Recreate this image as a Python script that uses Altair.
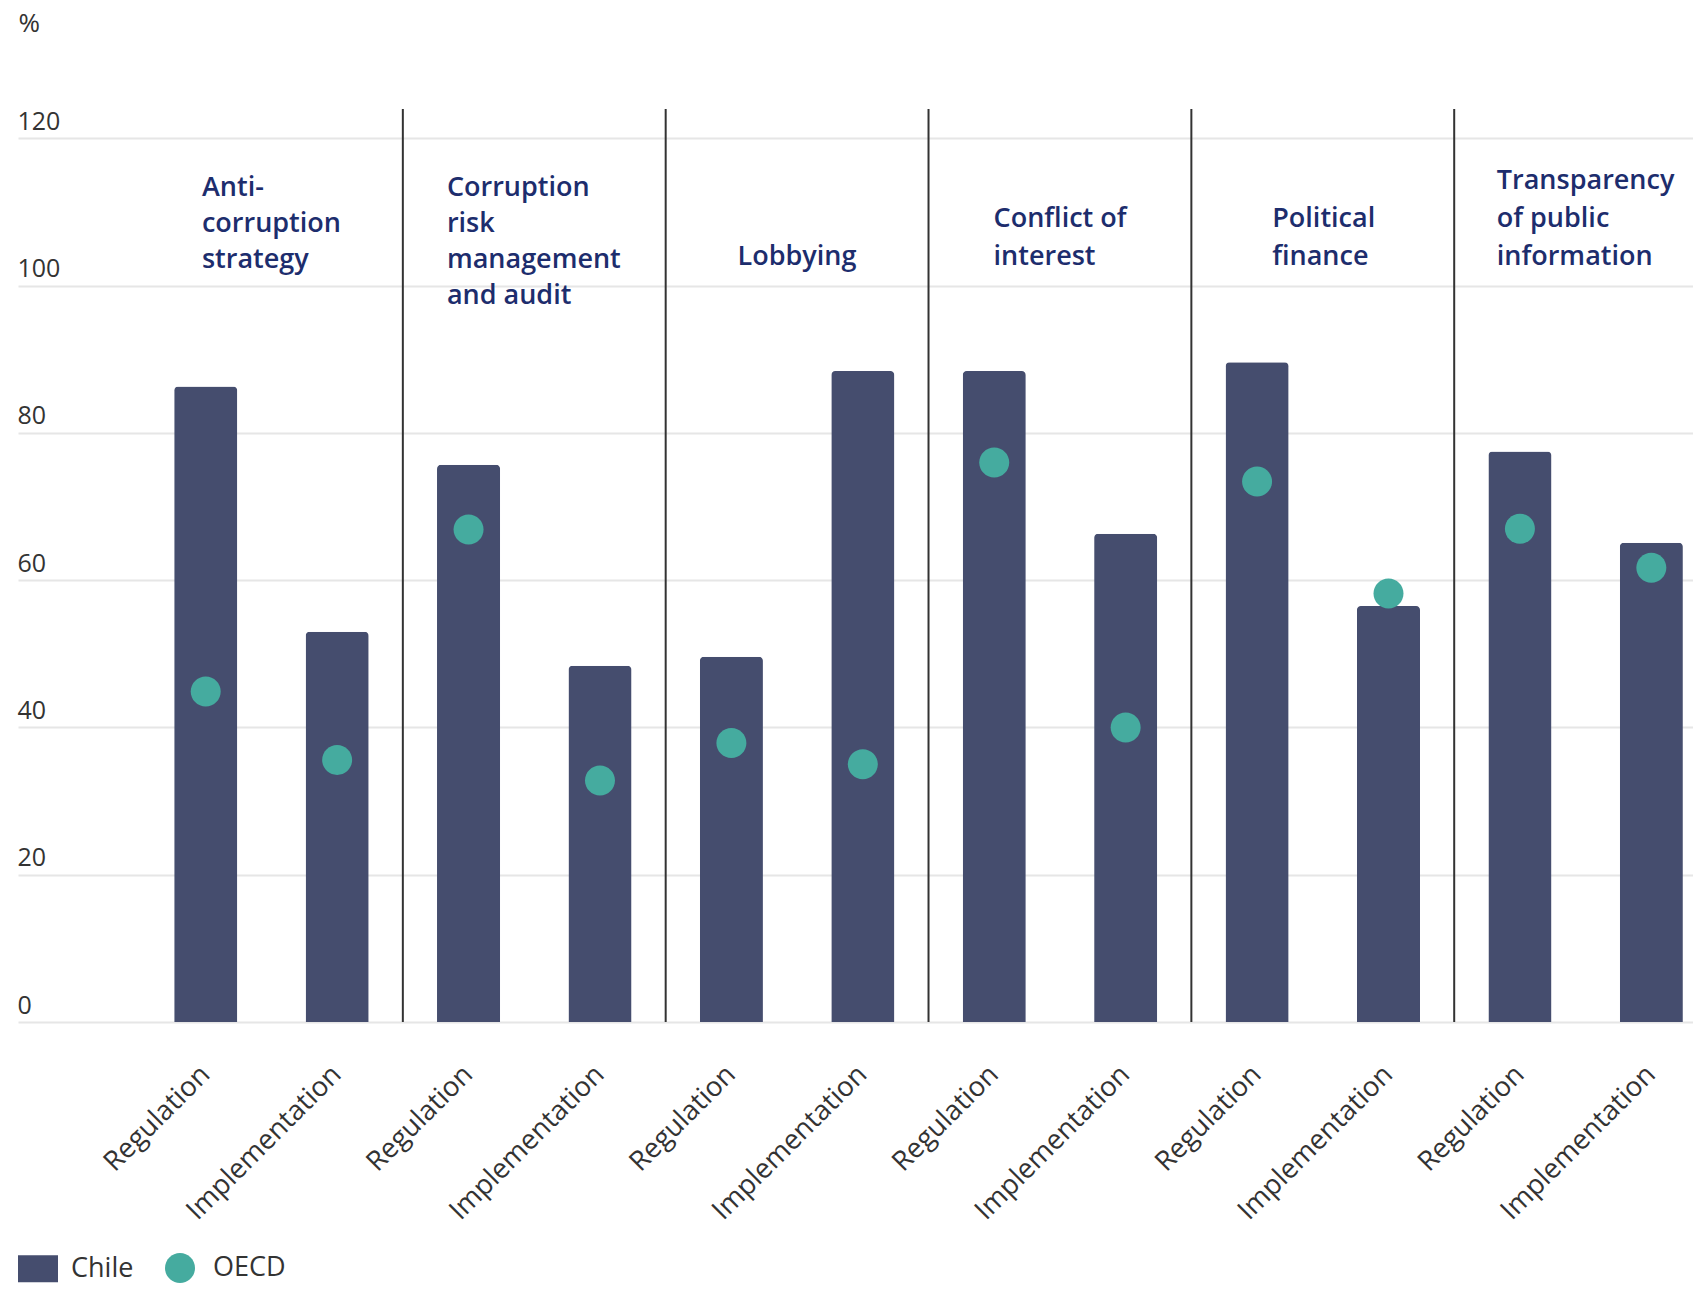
import altair as alt
import pandas as pd

# ---------------- data ----------------
groups = [
    "Anti-corruption strategy",
    "Corruption risk management and audit",
    "Lobbying",
    "Conflict of interest",
    "Political finance",
    "Transparency of public information",
]
title_lines = [
    ["Anti-", "corruption", "strategy"],
    ["Corruption", "risk", "management", "and audit"],
    ["Lobbying"],
    ["Conflict of", "interest"],
    ["Political", "finance"],
    ["Transparency", "of public", "information"],
]
dimensions = ["Regulation", "Implementation"]
chile = [86.3, 53.0, 75.7, 48.4, 49.6, 88.4, 88.4, 66.3, 89.6, 56.5, 77.5, 65.1]
oecd = [44.9, 35.6, 66.9, 32.8, 37.9, 35.0, 76.0, 40.0, 73.4, 58.2, 67.0, 61.7]
y_ticks = [0, 20, 40, 60, 80, 100, 120]
y_title = "%"
series_names = ["Chile", "OECD"]

# ---------------- layout / style ----------------
W, H = 1675, 913
PAD = {"left": 10, "top": 101, "right": 0, "bottom": 262}
YMAX = 124
NB = len(groups) * len(dimensions)
LEFT_OFFSET = 122          # px from plot left edge to the first band step
STEP = 131.42              # px per band step
P_INNER = 0.52
SPAN = LEFT_OFFSET + NB * STEP
P_OUTER = (SPAN / STEP - NB + P_INNER) / 2
ALIGN = (LEFT_OFFSET + P_INNER / 2 * STEP) / (SPAN - STEP * (NB - P_INNER))

BAR = "#454d6e"
DOT = "#45ab9f"
TITLE_C = "#1d2d6d"
TEXT_C = "#333333"
GRID_C = "#e6e6e6"
DIV_C = "#333333"
FONT = "Open Sans"
TITLE_SIZE = 27
# title block placement: "top" blocks start at TOP_BASELINE, "bottom" blocks end at BOTTOM_BASELINE
TITLE_VALIGN = ["top", "top", "bottom", "bottom", "bottom", "bottom"]
TOP_BASELINE, TOP_LH = 196, 36
BOTTOM_BASELINE, BOTTOM_LH = 265, 38

# approximate Open Sans advance widths (em)
CW = {' ': .26, '-': .322, 'a': .556, 'b': .613, 'c': .476, 'd': .613, 'e': .561,
      'f': .339, 'g': .548, 'h': .614, 'i': .253, 'l': .253, 'm': .930, 'n': .614,
      'o': .604, 'p': .613, 'r': .408, 's': .477, 't': .353, 'u': .614, 'y': .501,
      'A': .633, 'C': .631, 'L': .5, 'P': .598, 'T': .543}


def text_w(s, size, bold=1.04):
    return sum(CW.get(ch, .55) for ch in s) * size * bold


plot_top_page = 8 + PAD["top"]


def page_y_to_units(yp):
    return (plot_top_page + H - yp) / H * YMAX


cats = [f"{g}|{d}" for g in groups for d in dimensions]
bars_df = pd.DataFrame({"cat": cats, "value": chile, "series": series_names[0]})
dots_df = pd.DataFrame({"cat": cats, "value": oecd, "series": series_names[1]})
div_df = pd.DataFrame({"pos": [len(dimensions) * i for i in range(1, len(groups))]})

rows = {"top": [], "bottom": []}
for gi, lines in enumerate(title_lines):
    center = len(dimensions) * gi + len(dimensions) / 2
    maxw = max(text_w(l, TITLE_SIZE) for l in lines)
    n = len(lines)
    va = TITLE_VALIGN[gi]
    first_base = TOP_BASELINE if va == "top" else BOTTOM_BASELINE - (n - 1) * BOTTOM_LH
    rows[va].append({"xl": center - maxw / 2 / STEP,
                     "ty": page_y_to_units(first_base),
                     "text": "\n".join(lines)})

# ---------------- scales / axes ----------------
xband = alt.Scale(type="band", domain=cats, range=[0, SPAN], paddingInner=P_INNER,
                  paddingOuter=P_OUTER, align=ALIGN)
xq = alt.Scale(domain=[-LEFT_OFFSET / STEP, NB], range=[0, SPAN], nice=False, zero=False)
yscale = alt.Scale(domain=[0, YMAX], nice=False, zero=True)
rect_path = "M-1,-0.675H1V0.675H-1Z"
circ_path = "M0.75,0A0.75,0.75 0 1,1 -0.75,0A0.75,0.75 0 1,1 0.75,0Z"
colscale = alt.Scale(domain=series_names, range=[BAR, DOT])
shapescale = alt.Scale(domain=series_names, range=[rect_path, circ_path])

yaxis = alt.Axis(
    values=y_ticks, title=y_title, titleAngle=0, titleAlign="left", titleBaseline="top",
    titleX=0, titleY=-99, titleFontSize=26, titleFontWeight="normal", titleColor=TEXT_C,
    titleFont=FONT, labelAlign="left", labelBaseline="alphabetic", labelOffset=-9,
    labelPadding=1, ticks=False, tickSize=0, domain=False, grid=True, gridColor=GRID_C,
    gridWidth=2, labelFontSize=25, labelColor=TEXT_C, labelFont=FONT, labelFlush=False,
    labelOverlap=False,
)
xaxis = alt.Axis(
    title=None, labelExpr="split(datum.label, '|')[1]", labelAngle=-45,
    labelAlign="right", labelBaseline="middle", labelPadding=48, ticks=False, tickSize=0,
    domain=False, grid=False, labelFontSize=27.5, labelColor=TEXT_C, labelFont=FONT,
    labelOverlap=False, labelLimit=400,
)

legend = alt.Legend(
    title=None, orient="none", legendX=0, legendY=1139, direction="horizontal",
    symbolSize=1600, symbolStrokeWidth=0, symbolOpacity=1,
    labelFontSize=27, labelColor=TEXT_C, labelFont=FONT, labelOffset=13,
    columnPadding=26,
)

bars = alt.Chart(bars_df).mark_bar(
    cornerRadiusTopLeft=4, cornerRadiusTopRight=4
).encode(
    x=alt.X("cat:N", scale=xband, sort=cats, axis=xaxis),
    y=alt.Y("value:Q", scale=yscale, axis=yaxis),
    color=alt.Color("series:N", scale=colscale, legend=legend),
)

points = alt.Chart(dots_df).mark_point(filled=True, opacity=1, size=1600).encode(
    x=alt.X("cat:N", scale=xband, sort=cats, axis=None),
    y=alt.Y("value:Q", scale=yscale, axis=yaxis),
    color=alt.Color("series:N", scale=colscale, legend=legend),
    shape=alt.Shape("series:N", scale=shapescale, legend=legend),
)

dividers = alt.Chart(div_df).mark_rule(color=DIV_C, strokeWidth=2).encode(
    x=alt.X("pos:Q", scale=xq, axis=None),
    y=alt.YDatum(0, type="quantitative", scale=yscale, axis=yaxis),
    y2=alt.Y2Datum(YMAX),
)


def title_layer(df, lh):
    return alt.Chart(df).mark_text(
        align="left", baseline="alphabetic", lineBreak="\n", lineHeight=lh,
        font=FONT, fontSize=TITLE_SIZE, fontWeight=600, color=TITLE_C,
    ).encode(
        x=alt.X("xl:Q", scale=xq, axis=None),
        y=alt.Y("ty:Q", scale=yscale, axis=yaxis),
        text="text:N",
    )


titles_top = title_layer(pd.DataFrame(rows["top"]), TOP_LH)
titles_bottom = title_layer(pd.DataFrame(rows["bottom"]), BOTTOM_LH)

chart = alt.layer(bars, points, dividers, titles_top, titles_bottom).resolve_scale(
    x="independent"
).properties(
    width=W, height=H, padding=PAD,
    autosize=alt.AutoSizeParams(type="none"),
    background="white",
).configure(font=FONT).configure_view(strokeWidth=0, stroke="transparent")

chart.save("out.html", embed_options={"renderer": "svg", "actions": False})
